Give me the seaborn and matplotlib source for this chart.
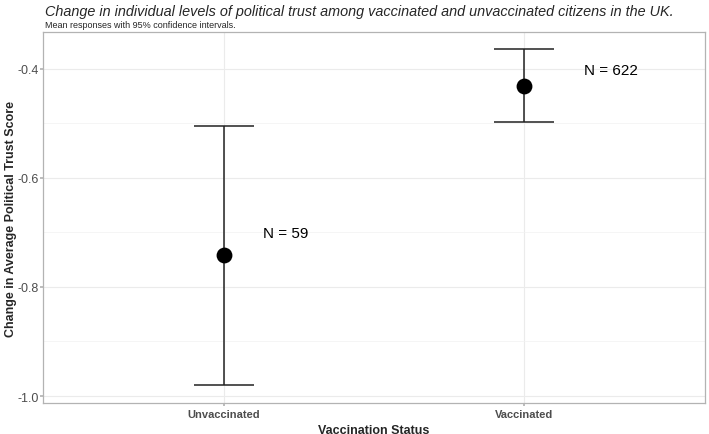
import numpy as np
import matplotlib
matplotlib.use("Agg")
import matplotlib.pyplot as plt
import pandas as pd
import seaborn as sns

# summary values
status = ["Unvaccinated", "Vaccinated"]
mean_trust = [-0.742, -0.432]
ci_low = [-0.980, -0.498]
ci_high = [-0.505, -0.364]
n_labels = ["N = 59", "N = 622"]
label_y = [-0.702, -0.403]
label_dx = [0.13, 0.20]

df = pd.DataFrame({"status": status, "mean": mean_trust,
                   "low": ci_low, "high": ci_high})

sns.set_theme(style="whitegrid")
plt.rcParams["font.family"] = ["Liberation Sans", "DejaVu Sans"]

fig, ax = plt.subplots(figsize=(7.09, 4.35), dpi=100)
fig.subplots_adjust(left=0.061, right=0.994, top=0.924, bottom=0.071)

# error bars (95% CI)
ax.errorbar(df["status"], df["mean"],
            yerr=[df["mean"] - df["low"], df["high"] - df["mean"]],
            fmt="none", ecolor="#222222", elinewidth=1.1,
            capsize=21.5, capthick=1.1, zorder=2)

sns.scatterplot(data=df, x="status", y="mean", color="black", s=130,
                edgecolor="black", linewidth=0, zorder=3, ax=ax)

for i, txt in enumerate(n_labels):
    ax.text(i + label_dx[i], label_y[i], txt, fontsize=11, ha="left",
            va="center", color="black")

ax.set_xlim(-0.6, 1.6)
ax.set_ylim(-1.013, -0.333)
ax.set_yticks([-1.0, -0.8, -0.6, -0.4])
ax.set_yticklabels(["-1.0", "-0.8", "-0.6", "-0.4"])
ax.set_yticks([-0.9, -0.7, -0.5], minor=True)

ax.grid(True, which="major", color="#ebebeb", linewidth=0.8)
ax.grid(True, which="minor", axis="y", color="#f2f2f2", linewidth=0.5)
ax.set_axisbelow(True)
for sp in ax.spines.values():
    sp.set_color("#b3b3b3")
    sp.set_linewidth(0.9)

ax.tick_params(axis="y", labelsize=9, labelcolor="#4d4d4d", length=2.5,
               color="#b3b3b3", left=True, pad=1)
ax.tick_params(axis="x", labelsize=8, labelcolor="#4d4d4d", length=2.5,
               color="#b3b3b3", bottom=True, pad=2)
for lab in ax.get_xticklabels():
    lab.set_fontweight("bold")

ax.set_xlabel("Vaccination Status", fontsize=9, fontweight="bold", labelpad=3)
ax.set_ylabel("Change in Average Political Trust Score", fontsize=9,
              fontweight="bold")
ax.yaxis.set_label_coords(-0.04, 0.5)

fig.text(0.0635, 0.972, "Change in individual levels of political trust among "
         "vaccinated and unvaccinated citizens in the UK.",
         fontsize=10.4, style="italic", ha="left", va="center")
fig.text(0.0635, 0.942, "Mean responses with 95% confidence intervals.",
         fontsize=6.5, ha="left", va="center")

fig.savefig("out.png", dpi=100)
